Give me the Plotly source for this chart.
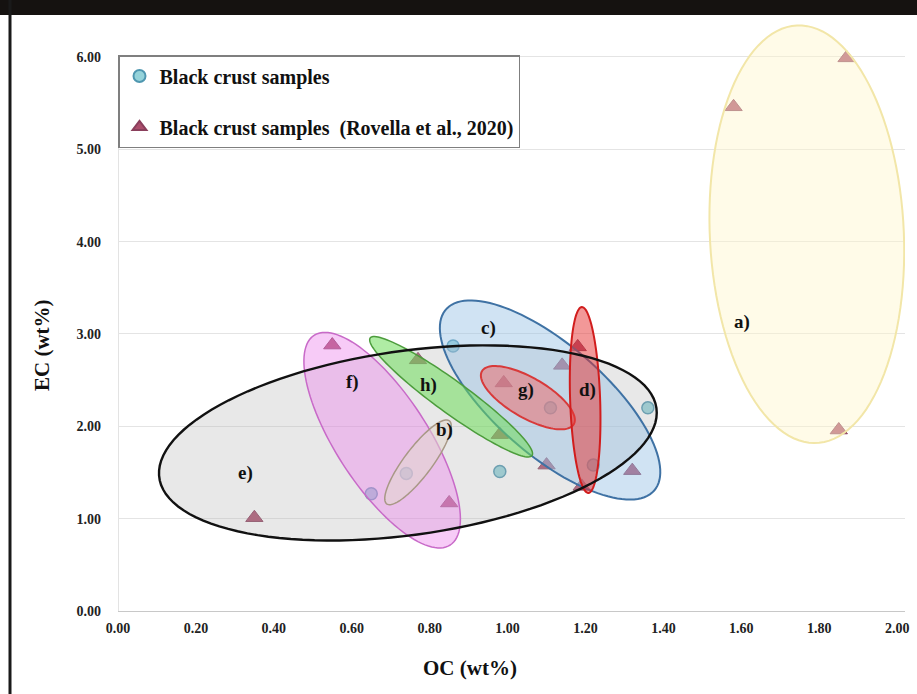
import numpy as np
import plotly.graph_objects as go

# ---------------- data ----------------
bc_oc = [0.65, 0.74, 0.98, 0.86, 1.11, 1.22, 1.36]
bc_ec = [1.27, 1.49, 1.51, 2.87, 2.20, 1.58, 2.20]

rov_oc = [1.87, 1.58, 1.85, 0.55, 0.77, 0.99, 0.98, 1.10, 1.14, 1.18, 1.19, 1.32, 0.35, 0.85]
rov_ec = [5.99, 5.46, 1.96, 2.88, 2.72, 2.47, 1.91, 1.58, 2.66, 2.86, 1.35, 1.52, 1.01, 1.17]

x_ticks = [0.0, 0.2, 0.4, 0.6, 0.8, 1.0, 1.2, 1.4, 1.6, 1.8, 2.0]
y_ticks = [0, 1, 2, 3, 4, 5, 6]

group_names = ["a)", "b)", "c)", "d)", "e)", "f)", "g)", "h)"]
group_cx = [1.768, 0.770, 1.109, 1.199, 0.744, 0.678, 1.052, 0.855]
group_cy = [4.08, 1.61, 2.285, 2.285, 1.82, 1.85, 2.31, 2.32]
label_x = [1.602, 0.839, 0.950, 1.204, 0.326, 0.601, 1.047, 0.796]
label_y = [3.13, 1.96, 3.06, 2.39, 1.49, 2.48, 2.39, 2.45]

# ---------------- layout constants ----------------
W, H = 917, 694
ML, MR, MT, MB = 118, 12, 20, 83
XR = [0, 2.02]
YR = [0, 6.4]
PW, PH = W - ML - MR, H - MT - MB
SX = PW / (XR[1] - XR[0])
SY = PH / (YR[1] - YR[0])
FONT = "Liberation Serif"

# ellipse styles: semi-axes (px), angle (deg, screen, ccw), fill, line
ell_style = {
    "a)": dict(a=209, b=97, ang=92.7, fill="rgba(255,246,205,0.45)", line="#f2e6a8", w=2),
    "b)": dict(a=52, b=14, ang=53, fill="rgba(225,215,205,0.55)", line="#a89886", w=1.5),
    "c)": dict(a=138, b=55, ang=-41, fill="rgba(150,192,228,0.45)", line="#3f72a4", w=2),
    "d)": dict(a=93, b=15, ang=92, fill="rgba(230,50,50,0.5)", line="#d11d1d", w=2),
    "e)": dict(a=251, b=92, ang=8, fill="rgba(180,180,180,0.3)", line="#111111", w=2.4),
    "f)": dict(a=125, b=46, ang=-57, fill="rgba(235,130,235,0.42)", line="#c86ac8", w=1.5),
    "g)": dict(a=53, b=20, ang=-30, fill="rgba(240,100,100,0.5)", line="#d83a3a", w=2),
    "h)": dict(a=100, b=16, ang=-36, fill="rgba(110,220,90,0.55)", line="#4c9c3c", w=1.5),
}
draw_order = ["e)", "a)", "f)", "c)", "h)", "b)", "g)", "d)"]


def ellipse_path(cx, cy, a, b, ang):
    t = np.linspace(0, 2 * np.pi, 120)
    th = np.deg2rad(ang)
    dx = a * np.cos(th) * np.cos(t) - b * np.sin(th) * np.sin(t)
    dy = a * np.sin(th) * np.cos(t) + b * np.cos(th) * np.sin(t)
    xs = cx + dx / SX
    ys = cy + dy / SY
    pts = [f"{x:.5f},{y:.5f}" for x, y in zip(xs, ys)]
    return "M " + " L ".join(pts) + " Z"


fig = go.Figure()

fig.add_trace(go.Scatter(
    x=bc_oc, y=bc_ec, mode="markers", name="<b>Black crust samples</b>",
    legendgroup="g1",
    marker=dict(symbol="circle", size=12, color="#95d3da",
                line=dict(color="#4f97b0", width=1.5)),
))
fig.add_trace(go.Scatter(
    x=rov_oc, y=rov_ec, mode="markers",
    name="<b>Black crust samples  (Rovella et al., 2020)</b>",
    legendgroup="g2",
    marker=dict(symbol="triangle-up", size=15, color="#ab4e6c",
                line=dict(color="#8a3f5c", width=1)),
))

shapes = []
idx = {n: i for i, n in enumerate(group_names)}
for n in draw_order:
    i = idx[n]
    s = ell_style[n]
    p = ellipse_path(group_cx[i], group_cy[i], s["a"], s["b"], s["ang"])
    if n == "e)":
        shapes.append(dict(type="path", path=p, xref="x", yref="y", layer="above",
                           fillcolor=s["fill"], line=dict(width=0)))
    else:
        shapes.append(dict(type="path", path=p, xref="x", yref="y", layer="above",
                           fillcolor=s["fill"], line=dict(color=s["line"], width=s["w"])))
# outline of e) on top
i = idx["e)"]
s = ell_style["e)"]
shapes.append(dict(type="path", path=ellipse_path(group_cx[i], group_cy[i], s["a"], s["b"], s["ang"]),
                   xref="x", yref="y", layer="above", fillcolor="rgba(0,0,0,0)",
                   line=dict(color=s["line"], width=s["w"])))

# y axis line up to 6.00
shapes.append(dict(type="line", xref="x", yref="y", x0=0, x1=0, y0=0, y1=6,
                   line=dict(color="#c8c8c8", width=1), layer="below"))
# dark frame of the screenshot
shapes.append(dict(type="rect", xref="paper", yref="paper",
                   x0=-ML / PW - 0.01, x1=1 + MR / PW + 0.01,
                   y0=1 + (MT - 15) / PH, y1=1 + MT / PH + 0.01,
                   fillcolor="#151210", line=dict(width=0), layer="below"))
shapes.append(dict(type="line", xref="paper", yref="paper",
                   x0=(10 - ML) / PW, x1=(10 - ML) / PW,
                   y0=-MB / PH - 0.01, y1=1 + MT / PH,
                   line=dict(color="#1a1a1a", width=3), layer="below"))

annotations = []
for n, lx, ly in zip(group_names, label_x, label_y):
    annotations.append(dict(x=lx, y=ly, xref="x", yref="y", text="<b>" + n + "</b>",
                            showarrow=False,
                            font=dict(family=FONT, size=19, color="#111111")))
annotations.append(dict(x=(470 - ML) / PW, y=(MT + PH - 668) / PH, xref="paper", yref="paper",
                        xanchor="center", yanchor="middle",
                        text="<b>OC (wt%)</b>", showarrow=False,
                        font=dict(family=FONT, size=21, color="#111111")))
annotations.append(dict(x=(42 - ML) / PW, y=(MT + PH - 345) / PH, xref="paper", yref="paper",
                        xanchor="center", yanchor="middle",
                        text="<b>EC (wt%)</b>", showarrow=False, textangle=-90,
                        font=dict(family=FONT, size=21, color="#111111")))

fig.update_layout(
    width=W, height=H,
    margin=dict(l=ML, r=MR, t=MT, b=MB, autoexpand=False),
    paper_bgcolor="white", plot_bgcolor="white",
    showlegend=True,
    legend=dict(x=0.0, y=(MT + PH - 55) / PH, xanchor="left", yanchor="top",
                bordercolor="#7f7f7f", borderwidth=1.5, bgcolor="white",
                font=dict(family=FONT, size=20, color="#111111"),
                tracegroupgap=22, traceorder="grouped", itemsizing="constant"),
    shapes=shapes, annotations=annotations,
    xaxis=dict(range=XR, tickvals=x_ticks, ticktext=[f"<b>{v:.2f}</b>" for v in x_ticks],
               showgrid=False, zeroline=False, showline=True, linecolor="#c8c8c8",
               linewidth=1, ticks="", ticklabelstandoff=4, automargin=False,
               tickfont=dict(family=FONT, size=14, color="#222222")),
    yaxis=dict(range=YR, tickvals=y_ticks, ticktext=[f"<b>{v:.2f}</b>" for v in y_ticks],
               showgrid=True, gridcolor="#e4e4e4", gridwidth=1, zeroline=False,
               showline=False, ticks="", ticklabelstandoff=16, automargin=False,
               tickfont=dict(family=FONT, size=14, color="#222222")),
)

fig.write_html("out.html", config={"displayModeBar": False},
               post_script="document.body.style.margin='0px';document.body.style.padding='0px';")
